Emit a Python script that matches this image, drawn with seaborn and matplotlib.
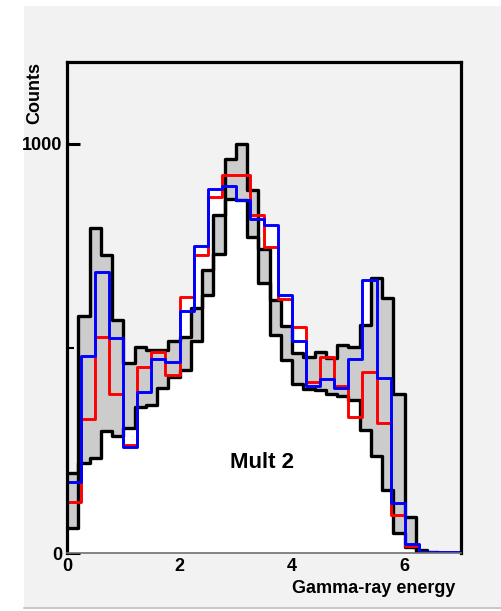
import numpy as np
import pandas as pd
import matplotlib
matplotlib.use("Agg")
import matplotlib.pyplot as plt
from matplotlib.patches import Rectangle
import seaborn as sns

# ---- data ----------------------------------------------------------------
# black band: 0.2 wide bins from 0 to 7
band_upper = [195, 579, 794, 729, 570, 464, 504, 496, 495, 517,
              527, 598, 692, 826, 964, 1000, 888, 743, 619, 555,
              489, 480, 491, 476, 509, 504, 557, 673, 623, 389,
              87, 7, 2, 0, 0]
band_lower = [60, 219, 231, 297, 286, 305, 358, 362, 403, 431,
              447, 517, 631, 731, 865, 863, 772, 659, 533, 472,
              413, 401, 398, 388, 384, 375, 300, 236, 154, 48,
              15, 2, 0, 0, 0]

# red and blue: 0.25 wide bins from 0 to 7
red_counts = [124, 327, 529, 389, 264, 455, 492, 435, 625, 729,
              871, 923, 923, 826, 749, 621, 553, 419, 478, 409,
              333, 443, 318, 93, 17, 2, 0, 0]
blue_counts = [173, 482, 686, 525, 260, 394, 473, 468, 592, 751,
               889, 897, 863, 816, 802, 631, 517, 407, 425, 403,
               474, 666, 427, 121, 22, 3, 2, 2]

x_ticks = [0, 2, 4, 6]
y_ticks = [0, 1000]

# ---- bins --------------------------------------------------------------------
edges_b = np.linspace(0, 7, len(band_upper) + 1)
edges_c = np.linspace(0, 7, len(red_counts) + 1)
cent_b = (edges_b[:-1] + edges_b[1:]) / 2
cent_c = (edges_c[:-1] + edges_c[1:]) / 2
edges_b = edges_b.tolist()
edges_c = edges_c.tolist()

df_b = pd.DataFrame({"e": cent_b, "up": band_upper, "lo": band_lower})
df_c = pd.DataFrame({"e": cent_c, "red": red_counts, "blue": blue_counts})
df_c["hi"] = df_c[["red", "blue"]].max(axis=1)

sns.set_style("white")
plt.rcParams["font.family"] = ["Liberation Sans", "DejaVu Sans"]
plt.rcParams["font.weight"] = "bold"
for key in ["text.color", "axes.labelcolor", "xtick.color", "ytick.color"]:
    plt.rcParams[key] = "black"

bg = "#f2f2f2"
fig = plt.figure(figsize=(5.02, 6.11), dpi=100, facecolor="white")
fig.patches.append(Rectangle((24 / 502, 1 - 608 / 611), 1 - 24 / 502, 602 / 611,
                             transform=fig.transFigure, facecolor=bg,
                             edgecolor="none", zorder=-10))
fig.add_artist(plt.Line2D([24 / 502, 1], [1 - 608 / 611] * 2, color="#c8c8c8",
                          lw=1.5, transform=fig.transFigure, zorder=-5))

ax = fig.add_axes([67 / 502, 1 - 553 / 611, 394 / 502, 491 / 611])
ax.set_zorder(1)
ax.set_facecolor(bg)


def stairs(df, col, edges, **kw):
    sns.histplot(x=df["e"].to_numpy(), weights=df[col].to_numpy(), bins=edges,
                 element="step", ax=ax, **kw)


# white under the coloured histograms, grey band, white under the lower edge
stairs(df_c, "hi", edges_c, fill=True, color="white", alpha=1, linewidth=0, zorder=1)
stairs(df_b, "up", edges_b, fill=True, color="#cccccc", alpha=1, linewidth=0, zorder=2)
stairs(df_b, "lo", edges_b, fill=True, color="white", alpha=1, linewidth=0, zorder=3)

# outlines
for col in ["up", "lo"]:
    stairs(df_b, col, edges_b, fill=False, color="black", linewidth=2.4, zorder=4)
stairs(df_c, "red", edges_c, fill=False, color="#ff0000", linewidth=2.1, zorder=5)
stairs(df_c, "blue", edges_c, fill=False, color="#0000ff", linewidth=2.1, zorder=6)

ax.text(3.46, 220, "Mult 2", ha="center", va="center", fontsize=16,
        fontweight="bold", zorder=7)

ax.set_xlim(0, 7)
ax.set_ylim(0, 1200)
ax.set_xticks(x_ticks)
ax.set_yticks(y_ticks)
ax.set_yticks([500], minor=True)
ax.tick_params(axis="x", bottom=True, length=0, pad=3.5, labelsize=13,
               colors="black")
ax.tick_params(axis="y", which="major", left=True, direction="in", length=9,
               width=2.2, pad=3.5, labelsize=13, colors="black")
ax.tick_params(axis="y", which="minor", left=True, direction="in", length=5,
               width=1.5, colors="black")
for lab in ax.get_xticklabels() + ax.get_yticklabels():
    lab.set_fontweight("bold")

for side in ["left", "top", "right"]:
    ax.spines[side].set_color("black")
    ax.spines[side].set_linewidth(2.3)
ax.spines["bottom"].set_color("#707070")
ax.spines["bottom"].set_linewidth(1.2)
for s in ax.spines.values():
    s.set_zorder(8)

ax.set_xlabel("Gamma-ray energy", loc="right", fontsize=13, fontweight="bold")
ax.set_ylabel("Counts", loc="top", fontsize=13, fontweight="bold")
ax.xaxis.set_label_coords(0.985, -27 / 491)
ax.yaxis.set_label_coords(-24 / 394, 1.0)

fig.savefig("out.png", dpi=100, facecolor=fig.get_facecolor())
